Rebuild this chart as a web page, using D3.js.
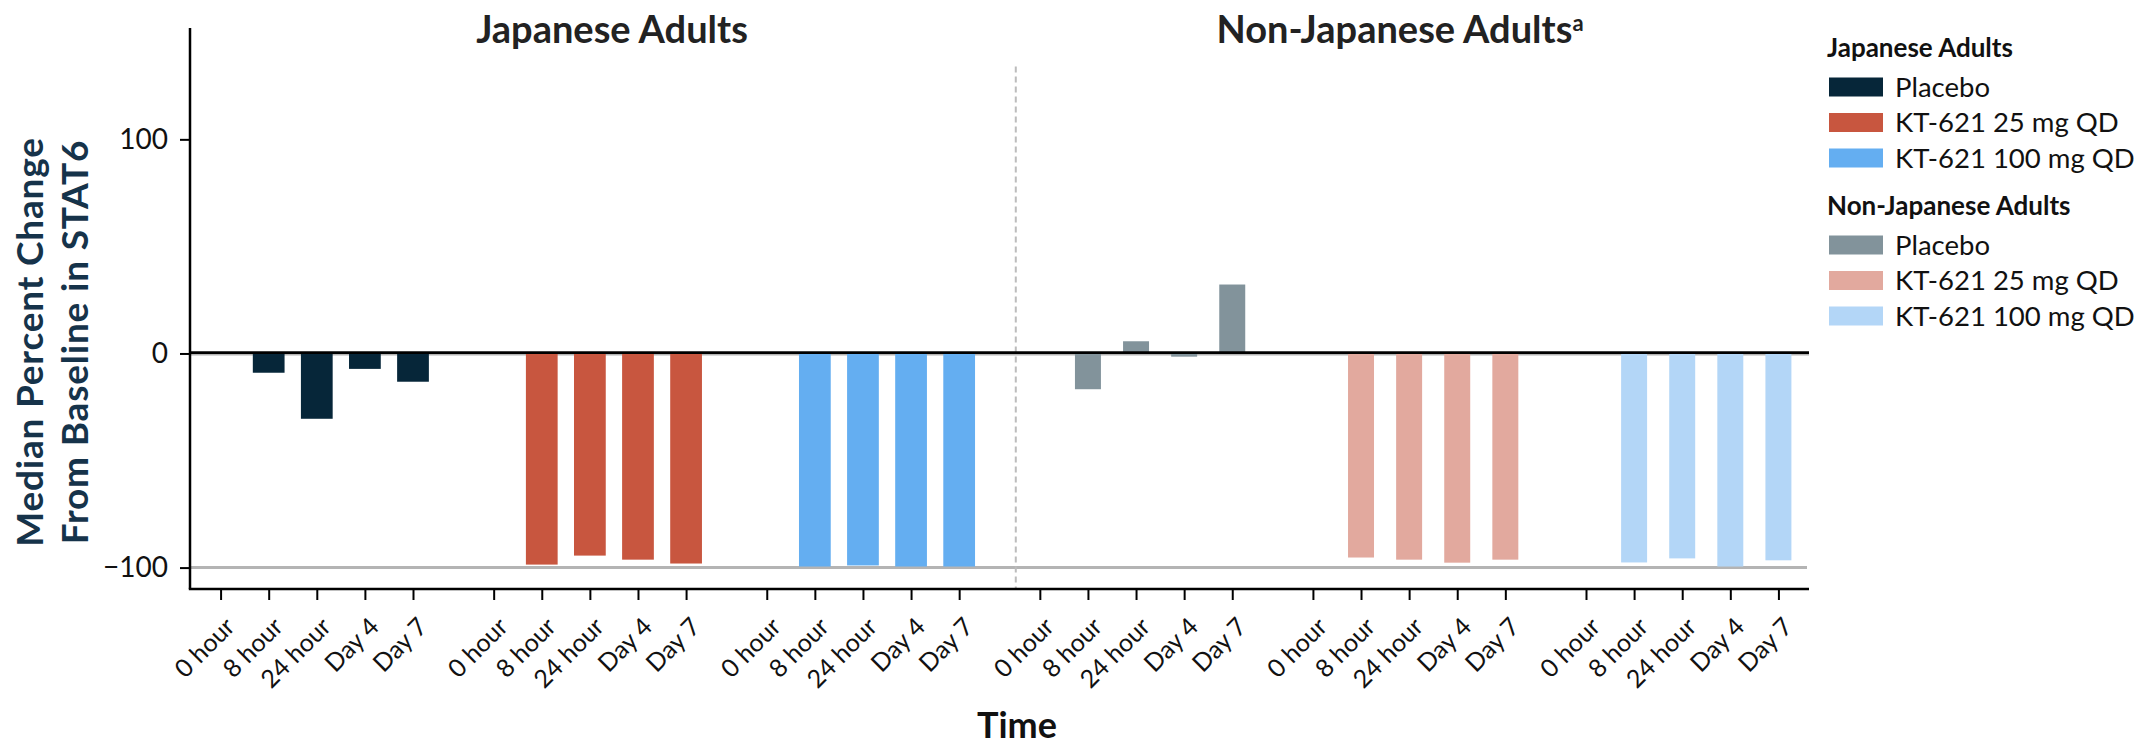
<!DOCTYPE html>
<html>
<head>
<meta charset="utf-8">
<script src="https://cdn.jsdelivr.net/npm/d3@7"></script>
<style>
	body { margin: 0; background: #fff; }
	svg { display: block; font-family: Lato, "Open Sans", sans-serif; }
</style>
</head>
<body>
<script>
// data (median % change from baseline)
const times = ["0 hour", "8 hour", "24 hour", "Day 4", "Day 7"];
const arms = ["Placebo", "KT-621 25 mg QD", "KT-621 100 mg QD"];
const populations = ["Japanese Adults", "Non-Japanese Adults"];

const jpPlacebo = [null, -9.0, -30.5, -7.2, -13.2];
const jp25 = [null, -98.6, -94.4, -96.3, -98.1];
const jp100 = [null, -99.5, -99.0, -99.5, -99.5];
const njPlacebo = [null, -16.7, 5.7, -1.5, 32.2];
const nj25 = [null, -95.3, -96.3, -97.7, -96.3];
const nj100 = [null, -97.6, -95.7, -99.5, -96.6];

const yTicks = [-100, 0, 100];

const jpColors = ["#062639", "#c8563f", "#64aef1"];
const njColors = ["#82939b", "#e2a99e", "#b3d6f7"];

const groups = [
	{pop: 0, arm: 0, values: jpPlacebo},
	{pop: 0, arm: 1, values: jp25},
	{pop: 0, arm: 2, values: jp100},
	{pop: 1, arm: 0, values: njPlacebo},
	{pop: 1, arm: 1, values: nj25},
	{pop: 1, arm: 2, values: nj100}
];

let width = 2139, height = 746;
let svg = d3.select("body").append("svg").attr("width", width).attr("height", height);

let plotL = 190, plotR = 1809, plotT = 28, plotB = 589;

let y = d3.scaleLinear().domain([-110, 152]).range([plotB, plotT]);
let gx = d3.scaleBand().domain(d3.range(groups.length)).range([plotL, plotR])
	.paddingInner(0.2954).paddingOuter(0.112);
let tx = d3.scalePoint().domain(times).range([0, gx.bandwidth()]);
let step = tx.step();
let barW = [step * 0.66, step * 0.54];

// reference lines
svg.append("line").attr("x1", plotL).attr("x2", plotR - 2)
	.attr("y1", y(-100)).attr("y2", y(-100))
	.attr("stroke", "#b4b4b4").attr("stroke-width", 3);
svg.append("line").attr("x1", plotL).attr("x2", plotR)
	.attr("y1", y(0) + 1.2).attr("y2", y(0) + 1.2)
	.attr("stroke", "#b4b4b4").attr("stroke-width", 1.6);

// divider between populations
let divX = gx(3) - step / 2;
svg.append("line").attr("x1", divX).attr("x2", divX)
	.attr("y1", y(134)).attr("y2", plotB)
	.attr("stroke", "#bcbcbc").attr("stroke-width", 2).attr("stroke-dasharray", "6,4");

// bars
groups.forEach((g, gi) => {
	let col = g.pop == 0 ? jpColors[g.arm] : njColors[g.arm];
	let w = barW[g.pop];
	let rows = times.map((t, i) => ({t: t, v: g.values[i]})).filter(d => d.v != null);
	svg.append("g").selectAll("rect").data(rows).enter().append("rect")
		.attr("x", d => gx(gi) + tx(d.t) - w / 2)
		.attr("width", w)
		.attr("y", d => y(Math.max(0, d.v)))
		.attr("height", d => Math.abs(y(d.v) - y(0)))
		.attr("fill", col);
});

// zero line on top
svg.append("line").attr("x1", plotL).attr("x2", plotR)
	.attr("y1", y(0) - 0.8).attr("y2", y(0) - 0.8)
	.attr("stroke", "#000").attr("stroke-width", 2.6);

// y axis
let yAxis = svg.append("g").attr("transform", `translate(${plotL},0)`)
	.call(d3.axisLeft(y).tickValues(yTicks).tickSize(10).tickPadding(12).tickFormat(d => d < 0 ? "\u2212" + Math.abs(d) : d));
yAxis.select(".domain").attr("stroke-width", 2.5).attr("d", `M0,${plotT}V${plotB}`);
yAxis.selectAll(".tick line").attr("stroke-width", 2);
yAxis.selectAll("text").attr("font-size", 28).attr("fill", "#111").attr("font-family", "Lato");

// x axis: one axis per group
groups.forEach((g, gi) => {
	let ax = svg.append("g").attr("transform", `translate(${gx(gi)},${plotB})`)
		.call(d3.axisBottom(tx).tickSize(11).tickPadding(4));
	ax.select(".domain").remove();
	ax.selectAll(".tick line").attr("stroke-width", 2);
	ax.selectAll("text")
		.attr("font-size", 25).attr("fill", "#111").attr("font-family", "Lato")
		.attr("text-anchor", "end")
		.attr("dy", "0.35em")
		.attr("transform", "translate(9,33) rotate(-45)")
		.attr("y", 0).attr("x", 0);
});
svg.append("line").attr("x1", plotL - 1.2).attr("x2", plotR)
	.attr("y1", plotB).attr("y2", plotB)
	.attr("stroke", "#000").attr("stroke-width", 2.5);

// panel titles
svg.append("text").attr("x", 612).attr("y", 43).attr("text-anchor", "middle")
	.attr("font-size", 38).attr("font-weight", 700).attr("fill", "#222")
	.text(populations[0]);
let t2 = svg.append("text").attr("x", 1400).attr("y", 43).attr("text-anchor", "middle")
	.attr("font-size", 38).attr("font-weight", 700).attr("fill", "#222");
t2.append("tspan").text(populations[1]);
t2.append("tspan").attr("font-size", 22).attr("dy", -12).text("a");

// axis titles
let yl = svg.append("text").attr("transform", "translate(43,342) rotate(-90)")
	.attr("text-anchor", "middle").attr("font-size", 37).attr("font-weight", 700)
	.attr("letter-spacing", 0.8).attr("fill", "#16334a");
yl.append("tspan").attr("x", 0).attr("y", 0).text("Median Percent Change");
yl.append("tspan").attr("x", 0).attr("y", 45).text("From Baseline in STAT6");

svg.append("text").attr("x", 1017).attr("y", 738).attr("text-anchor", "middle")
	.attr("font-size", 36).attr("font-weight", 700).attr("fill", "#111").text("Time");

// legend
let legend = svg.append("g").attr("transform", "translate(1827,0)");
let legendBlocks = [
	{title: populations[0], colors: jpColors, y0: 57},
	{title: populations[1], colors: njColors, y0: 215}
];
legendBlocks.forEach(b => {
	legend.append("text").attr("x", 0).attr("y", b.y0)
		.attr("font-size", 26).attr("font-weight", 700).attr("fill", "#111").text(b.title);
	arms.forEach((a, i) => {
		let cy = b.y0 + 30 + i * 35.5;
		legend.append("rect").attr("x", 2).attr("y", cy - 9.5).attr("width", 54).attr("height", 19)
			.attr("fill", b.colors[i]);
		legend.append("text").attr("x", 68).attr("y", cy).attr("dy", "0.36em")
			.attr("font-size", 27.5).attr("fill", "#111").text(a);
	});
});
</script>
</body>
</html>
